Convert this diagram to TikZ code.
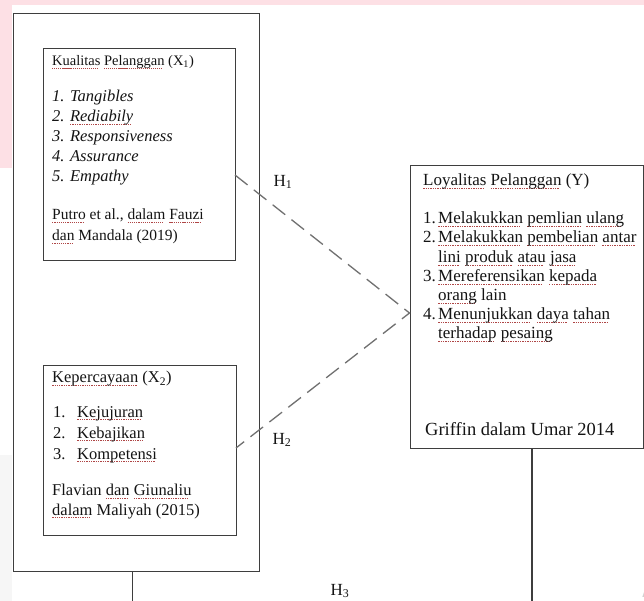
\documentclass[tikz,border=0pt]{standalone}
\usepackage{fontspec}
\setmainfont{Liberation Serif}
\definecolor{pinkbg}{RGB}{253,224,229}
\definecolor{greybg}{RGB}{246,246,246}
\definecolor{boxline}{RGB}{62,62,62}
\definecolor{dashcol}{RGB}{112,112,112}
\definecolor{sqred}{RGB}{175,70,70}
\definecolor{txtcol}{RGB}{20,20,20}
\newcommand\fsz[1]{\fontsize{#1}{#1}\selectfont}
\newsavebox\sqbox
\newcommand\sq[1]{\sbox\sqbox{#1}\rlap{\textcolor{sqred}{\raisebox{-0.2em}{\hbox to \wd\sqbox{\leaders\hbox{\rule{0.08em}{0.05em}\kern0.06em}\hfill}}}}\usebox\sqbox}
\tikzset{
  frame/.style={draw=boxline, line width=1.4pt, inner sep=0pt, anchor=north west},
  conn/.style={draw=boxline, line width=1.4pt},
  txt/.style={anchor=west, inner sep=0pt, text height=0.7em, text depth=0.2em, text=txtcol},
  dashline/.style={draw=dashcol, line width=1.3pt, dash pattern=on 16pt off 8pt},
  hlab/.style={inner sep=0pt, text=txtcol, font=\fsz{17}},
}
\begin{document}
\begin{tikzpicture}[x=1pt,y=-1pt]
\useasboundingbox (0,0) rectangle (644,601);
\fill[white] (0,0) rectangle (644,601);
\fill[pinkbg] (0,0) rectangle (644,5);
\fill[pinkbg] (0,0) rectangle (12,168);
\fill[greybg] (0,455) rectangle (12,601);
% boxes
\node[frame, minimum width=246.3pt, minimum height=558.3pt] (outer) at (12.7,12.7) {};
\node[frame, minimum width=192.3pt, minimum height=212pt] (box1) at (42.7,48) {};
\node[frame, minimum width=193.3pt, minimum height=169.5pt] (box2) at (42.7,365) {};
\node[frame, minimum width=233.5pt, minimum height=283pt] (ybox) at (409.5,165) {};
% box 1 text
\node[txt, font=\fsz{14.5}] (x1t) at (52,63) {\sq{Kualitas} \sq{Pelanggan} (X\textsubscript{1})};
\node[txt, font=\fsz{16.5}\itshape] (x1a) at (52,99) {1. Tangibles};
\node[txt, font=\fsz{16.5}\itshape] (x1b) at (52,119) {2. \sq{Rediabily}};
\node[txt, font=\fsz{16.5}\itshape] (x1c) at (52,139) {3. Responsiveness};
\node[txt, font=\fsz{16.5}\itshape] (x1d) at (52,159) {4. Assurance};
\node[txt, font=\fsz{16.5}\itshape] (x1e) at (52,179) {5. Empathy};
\node[txt, font=\fsz{15.5}] (x1s1) at (52,217) {\sq{Putro} et al., \sq{dalam} \sq{Fauzi}};
\node[txt, font=\fsz{15.5}] (x1s2) at (52,238) {\sq{dan} Mandala (2019)};
% box 2 text
\node[txt, font=\fsz{16.5}] (x2t) at (52,380) {\sq{Kepercayaan} (X\textsubscript{2})};
\node[txt, font=\fsz{16.5}] (x2n1) at (53,414.5) {1.};
\node[txt, font=\fsz{16.5}] (x2a) at (77,414.5) {\sq{Kejujuran}};
\node[txt, font=\fsz{16.5}] (x2n2) at (53,435.5) {2.};
\node[txt, font=\fsz{16.5}] (x2b) at (77,435.5) {\sq{Kebajikan}};
\node[txt, font=\fsz{16.5}] (x2n3) at (53,456.5) {3.};
\node[txt, font=\fsz{16.5}] (x2c) at (77,456.5) {\sq{Kompetensi}};
\node[txt, font=\fsz{16.5}] (x2s1) at (52,493) {Flavian \sq{dan} \sq{Giunaliu}};
\node[txt, font=\fsz{16.5}] (x2s2) at (52,512.5) {\sq{dalam} Maliyah (2015)};
% Y box text
\node[txt, font=\fsz{17}] (yt) at (423,183) {\sq{Loyalitas} \sq{Pelanggan} (Y)};
\node[txt, font=\fsz{17}] (yn1) at (423,221) {1.};
\node[txt, font=\fsz{17}] (ya) at (438,221) {\sq{Melakukkan} \sq{pemlian} \sq{ulang}};
\node[txt, font=\fsz{17}] (yn2) at (423,240) {2.};
\node[txt, font=\fsz{17}] (yb) at (438,240) {\sq{Melakukkan} \sq{pembelian} \sq{antar}};
\node[txt, font=\fsz{17}] (yb2) at (438,259.5) {\sq{lini} \sq{produk} \sq{atau} \sq{jasa}};
\node[txt, font=\fsz{17}] (yn3) at (423,278.5) {3.};
\node[txt, font=\fsz{17}] (yc) at (438,278.5) {\sq{Mereferensikan} \sq{kepada}};
\node[txt, font=\fsz{17}] (yc2) at (438,298) {\sq{orang} lain};
\node[txt, font=\fsz{17}] (yn4) at (423,317) {4.};
\node[txt, font=\fsz{17}] (yd) at (438,317) {\sq{Menunjukkan} \sq{daya} \sq{tahan}};
\node[txt, font=\fsz{17}] (yd2) at (438,336) {\sq{terhadap} \sq{pesaing}};
\node[txt, font=\fsz{18.5}] (ysrc) at (425,433) {Griffin dalam Umar 2014};
% connectors
\coordinate (d1) at (235,175);
\coordinate (yin) at (409.5,313);
\coordinate (d2) at (236,448);
\draw[dashline] (d1) -- (yin) -- (d2);
\coordinate (v1) at (132.7,605);
\coordinate (v2) at (532,605);
\draw[conn] (outer.south -| v1) -- (v1);
\draw[conn] (ybox.south -| v2) -- (v2);
% labels
\node[hlab] (h1) at (283,182) {H\textsubscript{1}};
\node[hlab] (h2) at (282,440) {H\textsubscript{2}};
\node[hlab] (h3) at (340,591) {H\textsubscript{3}};
\node[inner sep=0pt, text=black!18, font=\sffamily\fsz{30}] (wm) at (651,587) {A};
\end{tikzpicture}
\end{document}
